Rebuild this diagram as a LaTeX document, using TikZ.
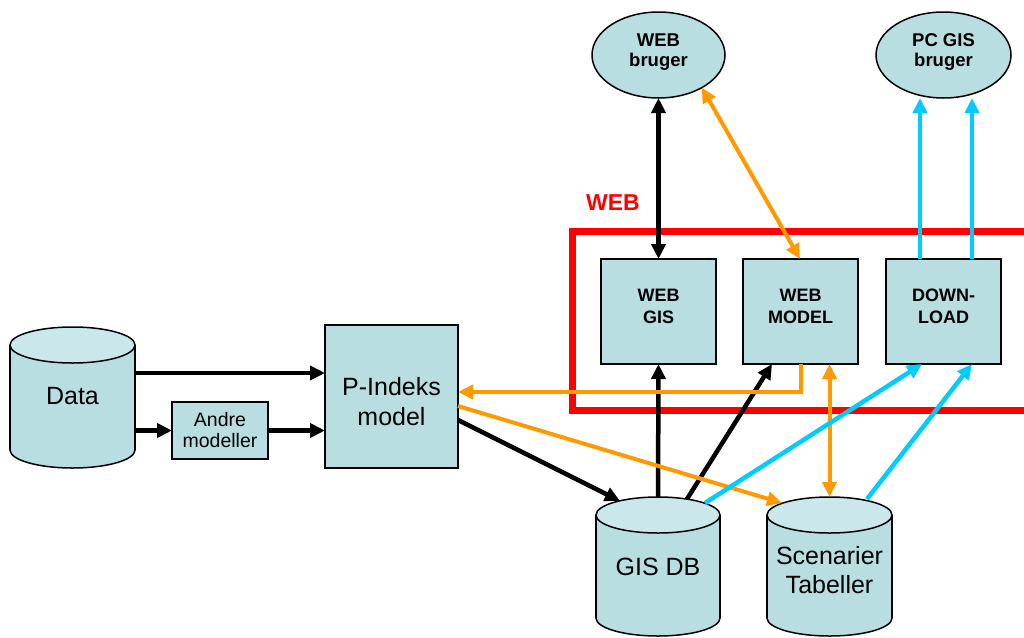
\documentclass[tikz,border=0pt]{standalone}
\usepackage{fontspec}
\setmainfont{Liberation Sans}
\usetikzlibrary{arrows.meta,shapes.geometric}
\definecolor{boxfill}{RGB}{185,222,226}
\definecolor{topfill}{RGB}{202,232,235}
\definecolor{org}{RGB}{255,153,0}
\definecolor{cyn}{RGB}{0,204,255}
\definecolor{webred}{RGB}{255,0,0}
\newcommand\dbcyl[5]{%
  \fill[boxfill] ({#1-#4},#2) rectangle ({#1+#4},#3);
  \fill[boxfill] (#1,#3) ellipse[x radius=#4, y radius=#5];
  \begin{scope}
    \clip ({#1-#4-3},#3) rectangle ({#1+#4+3},{#3+#5+3});
    \draw[line width=1.5pt] (#1,#3) ellipse[x radius=#4, y radius=#5];
  \end{scope}
  \draw[line width=1.5pt] ({#1-#4},#2) -- ({#1-#4},#3) ({#1+#4},#2) -- ({#1+#4},#3);
  \filldraw[fill=topfill, line width=1.5pt] (#1,#2) ellipse[x radius=#4, y radius=#5];
}
\tikzset{
  box/.style={draw, fill=boxfill, line width=1.5pt, outer sep=0pt, inner sep=0pt},
  userell/.style={ellipse, draw, fill=boxfill, line width=1.5pt, outer sep=0pt, inner sep=0pt, minimum height=86pt},
  lbl/.style={align=center, inner sep=0pt, outer sep=0pt},
  cyllbl/.style={align=center, inner sep=0pt, outer sep=0pt},
  arr/.style={line width=4.5pt, >={Triangle[length=15pt,width=14pt]}},
  blk/.style={arr, draw=black},
  orng/.style={arr, draw=org, line width=4pt},
  cyan/.style={arr, draw=cyn},
  bigtxt/.style={font=\fontsize{25}{29.5}\selectfont},
  boldtxt/.style={font=\bfseries\fontsize{18}{22}\selectfont},
  usertxt/.style={font=\bfseries\fontsize{18.5}{20}\selectfont}
}
\begin{document}
\begin{tikzpicture}[x=1pt,y=-1pt]
\useasboundingbox (0,0) rectangle (1024,637);
\clip (0,0) rectangle (1024,637);
\fill[white] (0,0) rectangle (1024,637);

% WEB frame
\draw[webred, line width=7pt] (572,231) rectangle (1045,410);
\node[lbl, text=webred, font=\bfseries\fontsize{23}{27}\selectfont] (weblabel) at (613,202.5) {WEB};

% cylinders
\dbcyl{72.5}{345}{450}{62.5}{18}
\dbcyl{658}{515}{618}{62}{18}
\dbcyl{829.5}{515}{618}{62.5}{18}
\node[cyllbl, bigtxt, minimum width=125pt, minimum height=141pt] (data) at (72.5,396) {Data};
\node[cyllbl, bigtxt, minimum width=124pt, minimum height=139pt] (gisdb) at (658,566.5) {GIS DB};
\node[cyllbl, bigtxt, minimum width=125pt, minimum height=146pt] (scen) at (829.5,570) {Scenarier\\Tabeller};

% boxes
\node[box, minimum width=133pt, minimum height=143pt] (pind) at (391.5,396.5) {};
\node[lbl, bigtxt] (pindt) at (391.5,401.5) {P-Indeks\\model};
\node[box, minimum width=96pt, minimum height=57pt] (andre) at (220,430.5) {};
\node[lbl, font=\fontsize{19.5}{21}\selectfont] (andret) at (220,430.5) {Andre\\modeller};
\node[box, minimum width=115pt, minimum height=105pt] (webgis) at (658.5,311.5) {};
\node[box, minimum width=115pt, minimum height=105pt] (webmodel) at (800.5,311.5) {};
\node[box, minimum width=115pt, minimum height=105pt] (download) at (943.5,311.5) {};
\node[lbl, boldtxt] (webgist) at (658.5,306) {WEB\\GIS};
\node[lbl, boldtxt] (webmodelt) at (800.5,306) {WEB\\MODEL};
\node[lbl, boldtxt] (downloadt) at (943.5,306) {DOWN-\\LOAD};

% users
\node[userell, minimum width=133pt] (webbruger) at (658.5,55) {};
\node[userell, minimum width=135pt] (pcgis) at (943.5,55) {};
\node[lbl, usertxt] (webbrugert) at (658.5,52.5) {WEB\\bruger};
\node[lbl, usertxt] (pcgist) at (943.5,52.5) {PC GIS\\bruger};

% black connectors
\draw[blk,->] ([shift={(0,-23)}]data.east) -- ([shift={(0,-23.5)}]pind.west);
\draw[blk,->] ([shift={(0,34.5)}]data.east) -- (andre.west);
\draw[blk,->] (andre.east) -- ([shift={(0,34)}]pind.west);
\draw[blk,->] ([shift={(0,23.5)}]pind.east) -- ([shift={(-38,4)}]gisdb.north);
\draw[blk,->] (gisdb.north) -- (webgis.south);
\draw[blk,->] ([shift={(29,2)}]gisdb.north) -- ([shift={(-28.5,0)}]webmodel.south);
\draw[blk,<->] (webbruger.south) -- (webgis.north);

% orange connectors
\draw[orng,<->] (webbruger.-37) -- ([shift={(-0.5,0)}]webmodel.north);
\draw[orng,->] ([shift={(0.5,0)}]webmodel.south) |- ([shift={(0,-4.5)}]pind.east);
\draw[orng,->] ([shift={(0,9.5)}]pind.east) -- ([shift={(-47.5,6)}]scen.north);
\draw[orng,<->] ([shift={(29,0)}]webmodel.south) -- (scen.north);

% cyan connectors
\draw[cyan,->] ([shift={(47,6)}]gisdb.north) -- ([shift={(-21.5,0)}]download.south);
\draw[cyan,->] ([shift={(37.5,2)}]scen.north) -- ([shift={(28.5,0)}]download.south);
\draw[cyan,->] ([shift={(-23.5,0)}]download.north) -- ([shift={(-23.5,0)}]pcgis.south);
\draw[cyan,->] ([shift={(28.5,0)}]download.north) -- ([shift={(28.5,0)}]pcgis.south);
\end{tikzpicture}
\end{document}
